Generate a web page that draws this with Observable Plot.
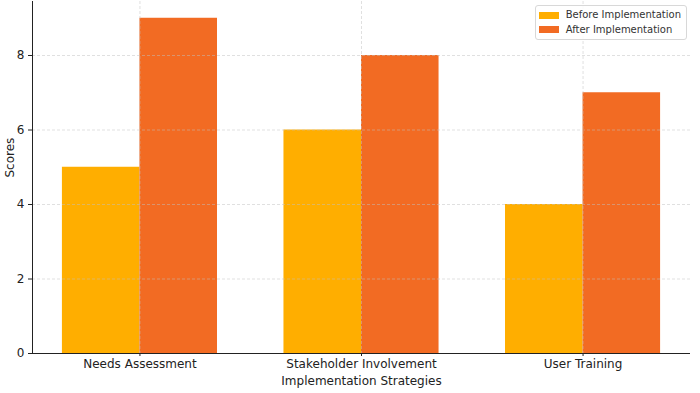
<!DOCTYPE html>
<html>
<head>
<meta charset="utf-8">
<script src="https://cdn.jsdelivr.net/npm/d3@7"></script>
<script src="https://cdn.jsdelivr.net/npm/@observablehq/plot@0.6"></script>
<style>
  html, body { margin: 0; padding: 0; background: #fff; }
  #wrap { position: relative; width: 700px; height: 393px; font-family: "DejaVu Sans", sans-serif; }
  #legend { position: absolute; right: 13px; top: 5px; border: 1px solid #d8d8d8; border-radius: 3px; background: rgba(255,255,255,0.85); padding: 2px 5px 2px 3px; font-size: 10px; color: #333; line-height: 14.5px; }
  #legend .item { display: flex; align-items: center; }
  #legend .sw { width: 20px; height: 7px; margin-right: 7px; }
</style>
</head>
<body>
<div id="wrap"></div>
<script>
const categories = ["Needs Assessment", "Stakeholder Involvement", "User Training"];
const series = ["Before Implementation", "After Implementation"];
const beforeScores = [5, 6, 4];
const afterScores = [9, 8, 7];
const colors = ["#FFAE00", "#F26B23"];
const yTicks = [0, 2, 4, 6, 8];

const barWidth = 0.35;
const rows = [];
categories.forEach((c, i) => {
  rows.push({cat: c, i, s: series[0], k: 0, v: beforeScores[i]});
  rows.push({cat: c, i, s: series[1], k: 1, v: afterScores[i]});
});
const maxV = d3.max(rows, d => d.v);
const span = categories.length - 1 + 2 * barWidth;
const xMin = -barWidth - 0.05 * span;
const xMax = categories.length - 1 + barWidth + 0.05 * span;

const chart = Plot.plot({
  width: 700,
  height: 393,
  marginLeft: 32,
  marginRight: 10,
  marginTop: 1,
  marginBottom: 40,
  style: {fontFamily: "DejaVu Sans, sans-serif", fontSize: "12px", color: "#222", background: "#fff"},
  x: {domain: [xMin, xMax], label: null},
  y: {domain: [0, maxV * 1.05], label: null},
  color: {domain: series, range: colors},
  marks: [
    Plot.rectY(rows, {
      x1: d => d.i - barWidth + d.k * barWidth,
      x2: d => d.i + d.k * barWidth,
      y1: 0,
      y2: "v",
      fill: "s"
    }),
    Plot.gridY(yTicks.filter(t => t > 0), {stroke: "#c0c0c0", strokeOpacity: 0.7, strokeDasharray: "3,2", strokeWidth: 0.7}),
    Plot.gridX(categories.map((c, i) => i), {stroke: "#c0c0c0", strokeOpacity: 0.7, strokeDasharray: "3,2", strokeWidth: 0.7}),
    Plot.axisX(categories.map((c, i) => i), {tickFormat: i => categories[i], tickSize: 3, tickPadding: 3, fontSize: 12, label: null}),
    Plot.axisY(yTicks, {tickSize: 4, tickPadding: 4, fontSize: 12, label: null}),
    Plot.ruleY([0], {stroke: "#222", strokeWidth: 1}),
    Plot.ruleX([xMin], {stroke: "#222", strokeWidth: 1}),
    Plot.text(["Implementation Strategies"], {frameAnchor: "bottom", dy: 31, fontSize: 12, fill: "#222"}),
    Plot.text(["Scores"], {frameAnchor: "left", dx: -22, rotate: -90, fontSize: 12, fill: "#222"})
  ]
});

const wrap = document.getElementById("wrap");
wrap.appendChild(chart);

const legend = document.createElement("div");
legend.id = "legend";
series.forEach((s, j) => {
  const item = document.createElement("div");
  item.className = "item";
  const sw = document.createElement("span");
  sw.className = "sw";
  sw.style.background = colors[j];
  const lab = document.createElement("span");
  lab.textContent = s;
  item.appendChild(sw);
  item.appendChild(lab);
  legend.appendChild(item);
});
wrap.appendChild(legend);
</script>
</body>
</html>
